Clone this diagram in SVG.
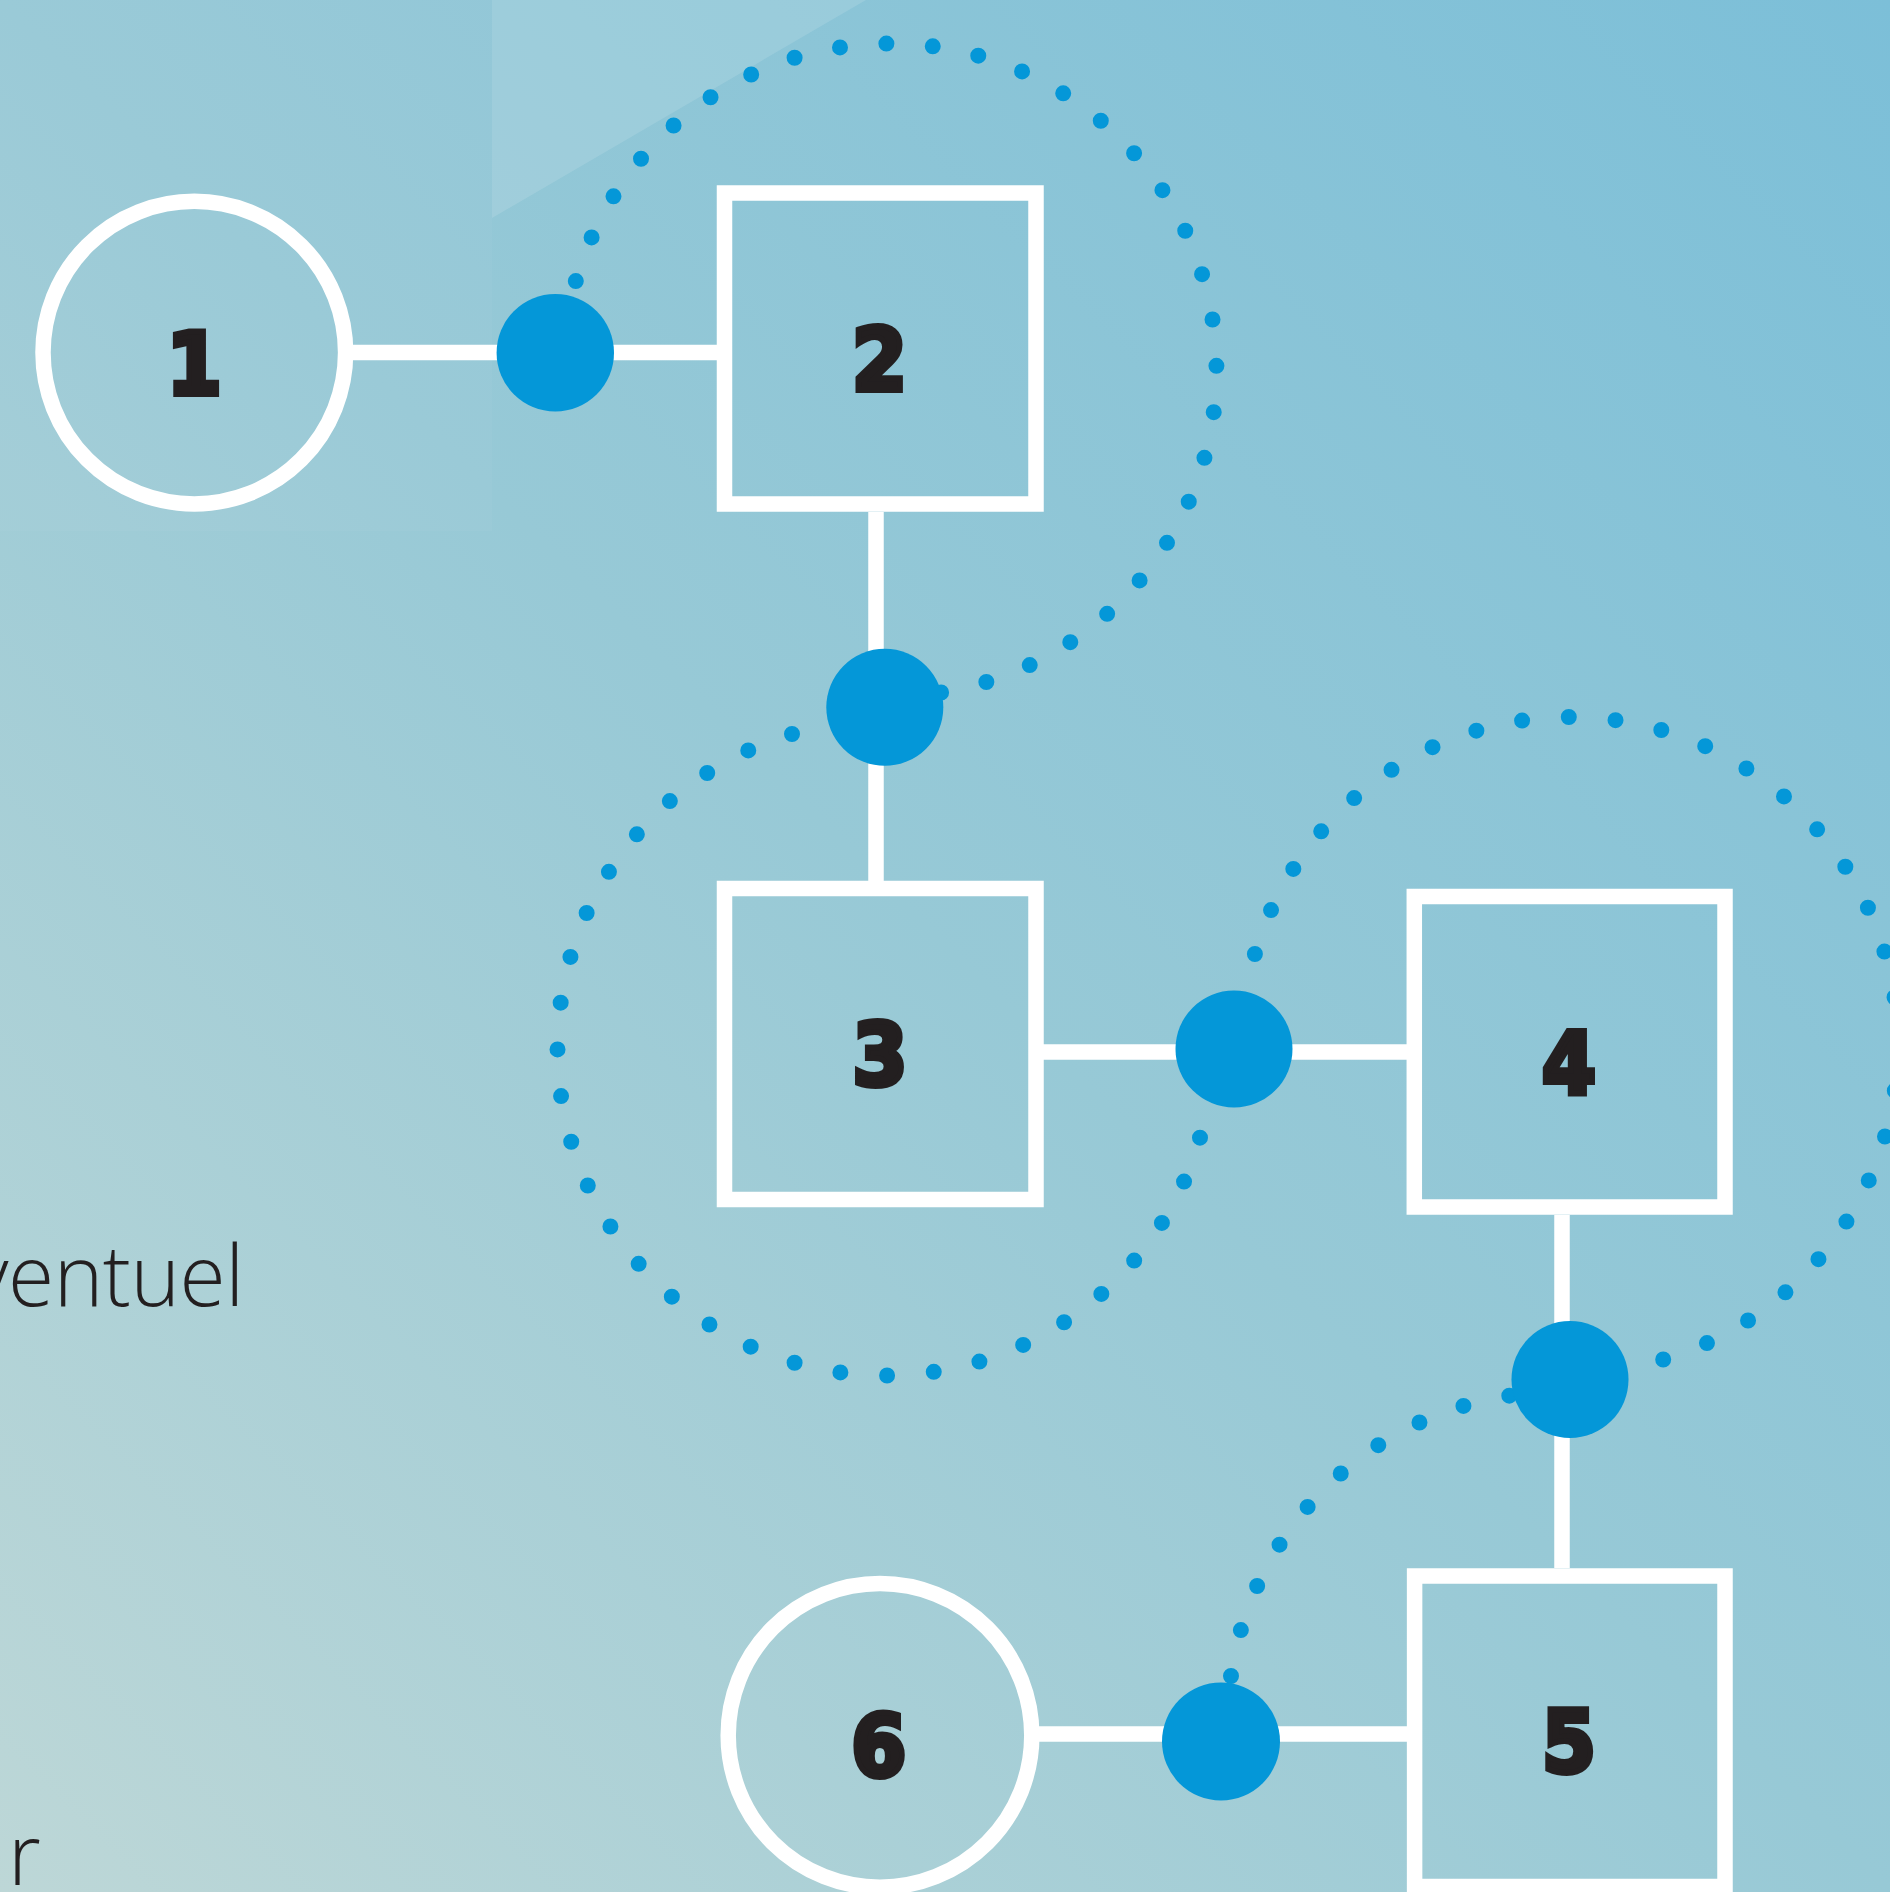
<svg xmlns="http://www.w3.org/2000/svg" width="1890" height="1892" viewBox="0 0 1890 1892">
  <defs>
    <linearGradient id="bg" x1="0" y1="1892" x2="1890" y2="0" gradientUnits="userSpaceOnUse">
      <stop offset="0" stop-color="#bdd7d7"/>
      <stop offset="0.5" stop-color="#97c9d6"/>
      <stop offset="1" stop-color="#7cbfd8"/>
    </linearGradient>
    <style>
      .node { fill: none; stroke: #ffffff; stroke-width: 15.5; }
      .link { stroke: #ffffff; stroke-width: 15.5; fill: none; }
      .hub { fill: #0497d8; }
      .ring { fill: none; stroke: #0497d8; stroke-width: 16; stroke-linecap: round; stroke-dasharray: 0 1; }
      .num { font-family: "DejaVu Sans", "Liberation Sans", sans-serif; font-weight: 700; font-size: 86px; fill: #231f20; stroke: #231f20; stroke-width: 6; text-anchor: middle; }
      .txt { font-family: "Open Sans", "Liberation Sans", sans-serif; font-weight: 300; font-size: 84px; fill: #231f20; }
    </style>
  </defs>

  <rect x="0" y="0" width="1890" height="1892" fill="url(#bg)"/>
  <rect x="0" y="0" width="492" height="531" fill="#ffffff" opacity="0.03"/>
  <polygon points="492,0 866,0 492,218" fill="#ffffff" opacity="0.12"/>

  <text class="txt" x="-30" y="1306" letter-spacing="-0.5">ventuel</text>
  <text class="txt" x="8" y="1885">r</text>

  <g id="connectors">
    <line class="link" x1="353" y1="352.5" x2="717" y2="352.5"/>
    <line class="link" x1="876" y1="512" x2="876" y2="881"/>
    <line class="link" x1="1043" y1="1052" x2="1407" y2="1052"/>
    <line class="link" x1="1562" y1="1215" x2="1562" y2="1568"/>
    <line class="link" x1="1039" y1="1734" x2="1407" y2="1734"/>

    <path class="ring" pathLength="30" d="M 575.8 281.1 A 326.5 326.5 0 1 1 941.1 692.5"/>
    <path class="ring" pathLength="29" d="M 792 734 A 327.5 327.5 0 1 0 1200 1137.7"/>
    <path class="ring" pathLength="29" d="M 1254.9 954 A 328 328 0 1 1 1663.2 1359.5"/>
    <path class="ring" pathLength="9" d="M 1509.3 1395.7 A 330 330 0 0 0 1231 1676"/>

    <circle class="hub" cx="555.3" cy="352.7" r="58.7"/>
    <circle class="hub" cx="884.8" cy="707.3" r="58.5"/>
    <circle class="hub" cx="1234" cy="1049" r="58.5"/>
    <circle class="hub" cx="1570" cy="1379.5" r="58.5"/>
    <circle class="hub" cx="1221" cy="1741.5" r="59"/>
  </g>

  <g id="node1">
    <circle class="node" cx="194.3" cy="352.6" r="151.3"/>
    <text class="num" x="0" y="394" transform="translate(194.2 0) scale(0.92 1)">1</text>
  </g>
  <g id="node2">
    <rect class="node" x="724.5" y="193" width="311.5" height="311"/>
    <text class="num" x="0" y="390" transform="translate(879.5 0) scale(0.92 1)">2</text>
  </g>
  <g id="node3">
    <rect class="node" x="724.5" y="888.5" width="311.5" height="311"/>
    <text class="num" x="0" y="1085" transform="translate(880 0) scale(0.92 1)">3</text>
  </g>
  <g id="node4">
    <rect class="node" x="1414.3" y="896.5" width="310.7" height="310.5"/>
    <text class="num" x="0" y="1093" transform="translate(1569 0) scale(0.9 1)">4</text>
  </g>
  <g id="node5">
    <rect class="node" x="1414.6" y="1576" width="310.4" height="310.5"/>
    <text class="num" x="0" y="1772" transform="translate(1569 0) scale(0.9 1)">5</text>
  </g>
  <g id="node6">
    <circle class="node" cx="880" cy="1735.4" r="151.8"/>
    <text class="num" x="0" y="1776" transform="translate(878.7 0) scale(0.92 1)">6</text>
  </g>
</svg>
